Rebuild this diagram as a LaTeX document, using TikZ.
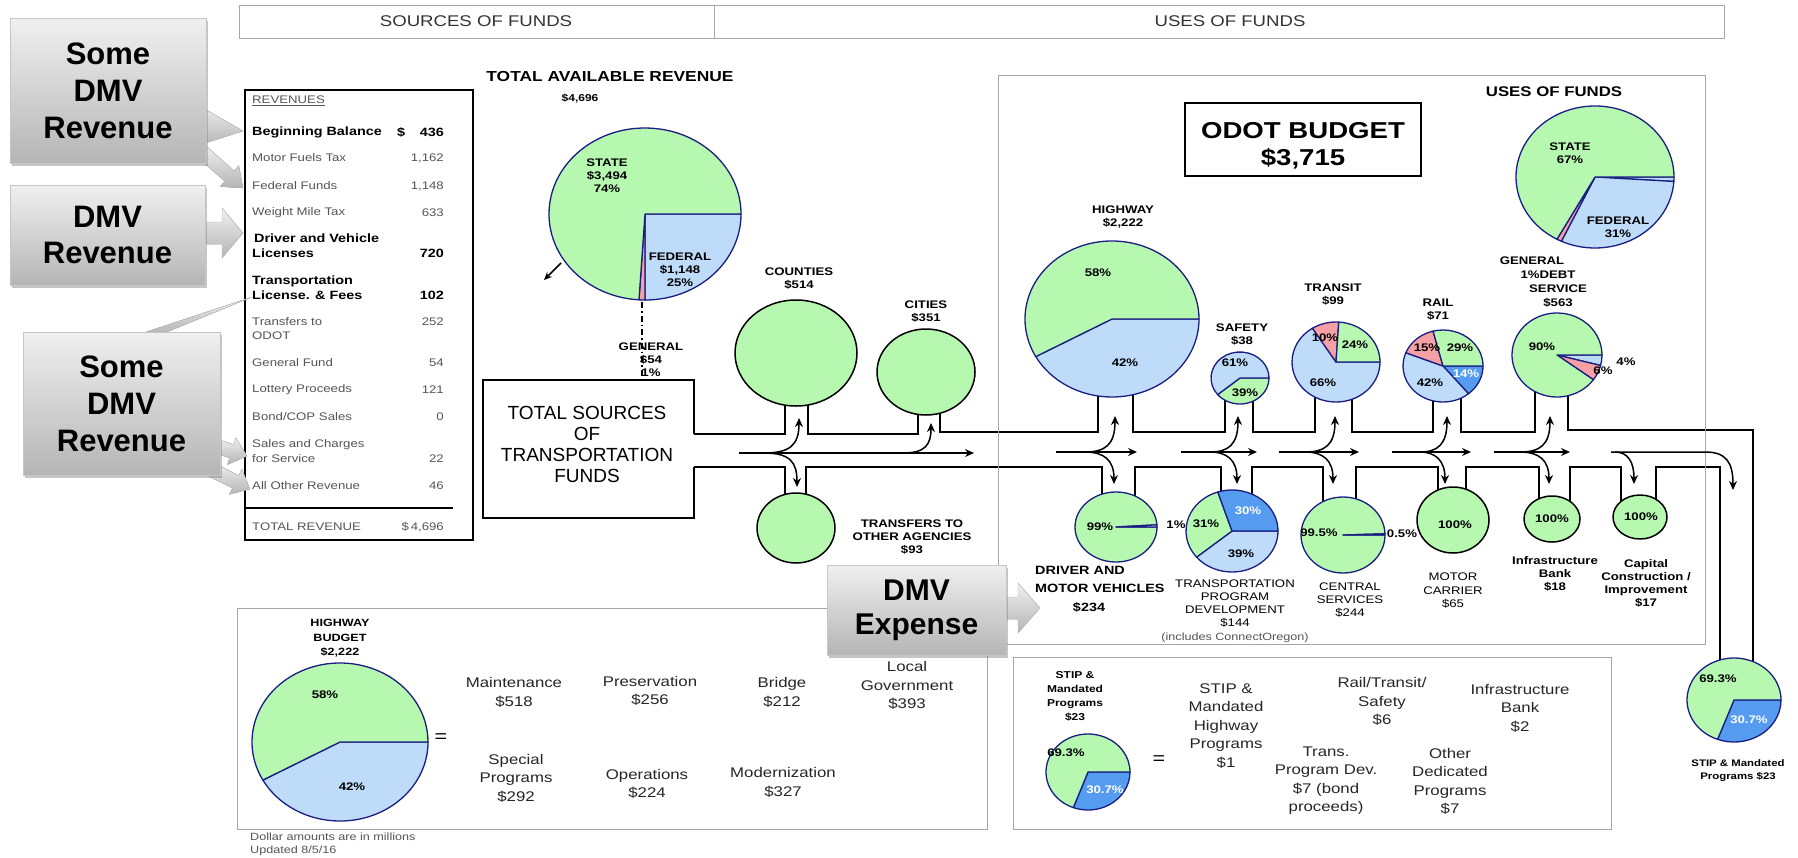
\documentclass[tikz,border=0pt]{standalone}
\usepackage{fontspec}
\setmainfont{Liberation Sans}[FakeStretch=1.2]
\newfontfamily\plainsans{Liberation Sans}
\usetikzlibrary{arrows.meta,calc,shadows}
\definecolor{pgreen}{RGB}{182,248,176}
\definecolor{pblue}{RGB}{190,220,250}
\definecolor{pdark}{RGB}{85,155,240}
\definecolor{ppink}{RGB}{245,160,165}
\definecolor{pline}{RGB}{25,30,130}
\definecolor{txtgray}{RGB}{85,85,85}

% pie slice: centre, x radius, y radius, start, end, fill
\newcommand{\pieslice}[6]{%
  \filldraw[fill=#6,draw=pline,line width=1.3pt,line join=round]
    (#1) -- ++(#4:#2 and #3) arc[start angle=#4,end angle=#5,x radius=#2,y radius=#3] -- cycle;}
% block arrow: start, tip, half shaft, half head, head length
\newcommand{\blockarrow}[5]{%
  \coordinate (ba-b) at ($(#2)!#5!(#1)$);
  \fill[callfill] ($(#1)!#3!90:(#2)$) -- ($(ba-b)!#3!-90:(#1)$) -- ($(ba-b)!#4!-90:(#1)$)
    -- (#2) -- ($(ba-b)!#4!90:(#1)$) -- ($(ba-b)!#3!90:(#1)$) -- ($(#1)!#3!-90:(#2)$) -- cycle;}

\begin{document}
\begin{tikzpicture}[x=1pt,y=-1pt,
  every node/.style={inner sep=0pt},
  hd/.style={font=\fontsize{15.5}{17}\selectfont, text=black!80},
  lb/.style={font=\fontsize{11}{13}\selectfont\bfseries, align=center},
  pc/.style={font=\fontsize{11}{12}\selectfont\bfseries},
  rv/.style={font=\fontsize{11}{12}\selectfont, text=txtgray, anchor=west},
  rvb/.style={font=\fontsize{12}{13}\selectfont\bfseries, anchor=west},
  num/.style={font=\fontsize{11}{12}\selectfont, text=txtgray, anchor=east},
  numb/.style={font=\fontsize{12}{13}\selectfont\bfseries, anchor=east},
  bx/.style={font=\fontsize{14}{18.5}\selectfont, align=center, text=black!85},
  chan/.style={line width=1.5pt},
  flow/.style={line width=1.5pt, -{Stealth[length=9pt,width=8pt]}},
  frame/.style={draw=gray!70, line width=0.9pt},
  circ/.style={fill=pgreen, draw=black, line width=1.5pt},
  callbox/.style={rectangle, draw=gray!45, top color=gray!12, bottom color=gray!58,
    drop shadow={opacity=0.45,shadow xshift=2pt,shadow yshift=-3pt},
    font=\plainsans\fontsize{31}{37}\selectfont\bfseries, align=center},
  callfill/.style={top color=gray!12, bottom color=gray!58, draw=gray!50, line width=0.4pt}
]
\useasboundingbox (0,0) rectangle (1798,857);
\fill[white] (0,0) rectangle (1798,857);

% header
\draw[frame] (239,5) rectangle (1724,38);
\draw[frame] (714,5) -- (714,38);
\node[hd] (srchead) at (476,21) {SOURCES OF FUNDS};
\node[hd] (usehead) at (1230,21) {USES OF FUNDS};

% revenue table
\draw[line width=1.4pt] (245,90) rectangle (473,540);
\draw[line width=1.2pt] (245,508) -- (453,508);
\node[rv] (revtitle) at (252,101) {\underline{REVENUES}};
\node[rvb] (begbal) at (252,132) {Beginning Balance};
\node[font=\fontsize{12}{13}\selectfont\bfseries] (begdol) at (401,132) {\$};
\node[numb] (begval) at (444,132) {436};
\foreach \i/\y/\txt/\val in {1/158/Motor Fuels Tax/{1,162}, 2/186/Federal Funds/{1,148},
  3/213/Weight Mile Tax/633, 4/322/Transfers to/252, 5/363/General Fund/54,
  6/390/Lottery Proceeds/121, 7/417/{Bond/COP Sales}/0, 8/486/All Other Revenue/46}
  {\node[rv] (rvl\i) at (252,\y) {\txt};
   \node[num] (rvv\i) at (444,\y) {\val};}
\node[rv] (rvodot) at (252,336) {ODOT};
\node[rv] (rvsales) at (252,445) {Sales and Charges};
\node[rv] (rvserv) at (252,459) {for Service};
\node[num] (rvservv) at (444,459) {22};
\node[rvb] (rvdvl) at (254,238) {Driver and Vehicle};
\node[rvb] (rvlic) at (252,253) {Licenses};
\node[numb] (rvlicv) at (444,253) {720};
\node[rvb] (rvtrans) at (252,281) {Transportation};
\node[rvb] (rvfees) at (252,295) {License. \& Fees};
\node[numb] (rvfeesv) at (444,295) {102};
\node[rv] (rvtotal) at (252,527) {TOTAL REVENUE};
\node[num] (rvtotalv) at (444,527) {\$\,4,696};

% total available revenue
\node[font=\fontsize{14.5}{16}\selectfont\bfseries] (tartitle) at (610,77) {TOTAL AVAILABLE REVENUE};
\node[font=\fontsize{10}{11}\selectfont\bfseries] (tarval) at (580,99) {\$4,696};
\coordinate (tar) at (645,214);
\pieslice{tar}{96}{86}{0}{90}{pblue}
\pieslice{tar}{96}{86}{90}{93.6}{ppink}
\pieslice{tar}{96}{86}{93.6}{360}{pgreen}
\node[lb] (tarstate) at (607,176) {STATE\\\$3,494\\74\%};
\node[lb] (tarfed) at (680,270) {FEDERAL\\\$1,148\\25\%};
\draw[line width=1.5pt, -{Stealth[length=8pt,width=7pt]}] (561,263) -- (544,280);
\draw[line width=1.5pt, dash pattern=on 6pt off 3pt on 1.5pt off 3pt] (642,302) -- (642,380);
\node[lb] (general) at (651,360) {GENERAL\\\$54\\1\%};

% total sources box and channel
\node[font=\plainsans\fontsize{19}{21}\selectfont, align=center] (tsources) at (587,444.5)
  {TOTAL SOURCES\\OF\\TRANSPORTATION\\FUNDS};
\draw[chan] (694,434) -- (694,380) -- (483,380) -- (483,518) -- (694,518) -- (694,467);
\draw[chan] (694,434) -- (785,434) -- (785,353) (808,353) -- (808,434) -- (918,434) -- (918,372)
  (940,372) -- (940,432) -- (1098,432) -- (1098,319) (1133,319) -- (1133,432) -- (1225,432) -- (1225,378)
  (1253,378) -- (1253,432) -- (1315,432) -- (1315,362) (1352,362) -- (1352,432) -- (1433,432) -- (1433,366)
  (1461,366) -- (1461,432) -- (1535,432) -- (1535,355) (1568,355) -- (1568,430) -- (1753,430) -- (1753,700);
\draw[chan] (694,467) -- (785,467) -- (785,528) (806,528) -- (806,467) -- (1102,467) -- (1102,527)
  (1135,527) -- (1135,467) -- (1221,467) -- (1221,531) (1252,531) -- (1252,467) -- (1323,467) -- (1323,535)
  (1356,535) -- (1356,467) -- (1438,467) -- (1438,520) (1466,520) -- (1466,467) -- (1539,467) -- (1539,519)
  (1570,519) -- (1570,467) -- (1621,467) -- (1621,517) (1656,517) -- (1656,467) -- (1720,467) -- (1720,700);

% local circles
\coordinate (counties) at (796,353);
\coordinate (cities) at (926,372);
\coordinate (transfers) at (796,528);
\draw[circ] (counties) ellipse [x radius=61, y radius=53];
\draw[circ] (cities) ellipse [x radius=49, y radius=43];
\draw[circ] (transfers) ellipse [x radius=39, y radius=35];
\node[lb] (countlbl) at (799,278.5) {COUNTIES\\\$514};
\node[lb] (citylbl) at (926,311.5) {CITIES\\\$351};
\node[lb] (translbl) at (912,537) {TRANSFERS TO\\OTHER AGENCIES\\\$93};

% uses of funds frame
\draw[frame] (998,75) rectangle (1705,644);
\draw[line width=1.5pt] (1185,103) rectangle (1421,176);
\node[font=\fontsize{23}{27}\selectfont\bfseries, align=center] (odot) at (1303,145.5) {ODOT BUDGET\\\$3,715};
\node[font=\fontsize{14}{16}\selectfont\bfseries] (usestitle) at (1554,92) {USES OF FUNDS};
\coordinate (uses) at (1595,177);
\pieslice{uses}{79}{71}{0}{3.6}{pblue}
\pieslice{uses}{79}{71}{3.6}{115.2}{pblue}
\pieslice{uses}{79}{71}{115.2}{118.8}{ppink}
\pieslice{uses}{79}{71}{118.8}{360}{pgreen}
\node[lb] (usesstate) at (1570,153.5) {STATE\\67\%};
\node[lb] (usesfed) at (1618,227.5) {FEDERAL\\31\%};

% upper pies
\coordinate (hwy) at (1112,319);
\pieslice{hwy}{87}{78}{0}{151.2}{pblue}
\pieslice{hwy}{87}{78}{151.2}{360}{pgreen}
\coordinate (safety) at (1240,378);
\pieslice{safety}{29}{26}{0}{140.4}{pgreen}
\pieslice{safety}{29}{26}{140.4}{360}{pblue}
\coordinate (transit) at (1336,362);
\pieslice{transit}{44}{40}{0}{237.6}{pblue}
\pieslice{transit}{44}{40}{237.6}{273.6}{ppink}
\pieslice{transit}{44}{40}{273.6}{360}{pgreen}
\coordinate (rail) at (1443,366);
\pieslice{rail}{40}{36}{0}{50.4}{pdark}
\pieslice{rail}{40}{36}{50.4}{201.6}{pblue}
\pieslice{rail}{40}{36}{201.6}{255.6}{ppink}
\pieslice{rail}{40}{36}{255.6}{360}{pgreen}
\coordinate (debt) at (1557,355);
\pieslice{debt}{45}{42}{0}{14.4}{pblue}
\pieslice{debt}{45}{42}{14.4}{36}{ppink}
\pieslice{debt}{45}{42}{36}{360}{pgreen}
\node[lb] (hwylbl) at (1123,217) {HIGHWAY\\\$2,222};
\node[lb] (safelbl) at (1242,335) {SAFETY\\\$38};
\node[lb] (transitlbl) at (1333,295) {TRANSIT\\\$99};
\node[lb] (raillbl) at (1438,309.5) {RAIL\\\$71};
\node[lb] (debtl1) at (1532,261) {GENERAL};
\node[lb] (debtl2) at (1548,275) {1\%DEBT};
\node[lb] (debtl3) at (1558,289) {SERVICE};
\node[lb] (debtl4) at (1558,303) {\$563};
\node[pc] (p1) at (1098,273) {58\%};
\node[pc] (p2) at (1125,363) {42\%};
\node[pc] (p3) at (1235,363) {61\%};
\node[pc] (p4) at (1245,393) {39\%};
\node[pc] (p5) at (1325,338) {10\%};
\node[pc] (p6) at (1355,345) {24\%};
\node[pc] (p7) at (1323,383) {66\%};
\node[pc] (p8) at (1427,348) {15\%};
\node[pc] (p9) at (1460,348) {29\%};
\node[pc, text=white] (p10) at (1466,374) {14\%};
\node[pc] (p11) at (1430,383) {42\%};
\node[pc] (p12) at (1542,347) {90\%};
\node[pc] (p13) at (1626,362) {4\%};
\node[pc] (p14) at (1603,371) {6\%};

% lower pies
\coordinate (dmv) at (1116,527);
\pieslice{dmv}{41}{35}{0}{356.4}{pgreen}
\pieslice{dmv}{41}{35}{-3.6}{0}{pblue}
\coordinate (tpd) at (1232,531);
\pieslice{tpd}{46}{41}{0}{140.4}{pblue}
\pieslice{tpd}{46}{41}{140.4}{252}{pgreen}
\pieslice{tpd}{46}{41}{252}{360}{pdark}
\coordinate (central) at (1343,535);
\pieslice{central}{42}{38}{0}{358.2}{pgreen}
\pieslice{central}{42}{38}{-1.8}{0}{pblue}
\coordinate (motor) at (1453,520);
\coordinate (infra) at (1552,519);
\coordinate (capital) at (1640,517);
\draw[circ] (motor) ellipse [x radius=36, y radius=33];
\draw[circ] (infra) ellipse [x radius=28, y radius=23];
\draw[circ] (capital) ellipse [x radius=27, y radius=22];
\node[pc] (p15) at (1100,527) {99\%};
\node[pc] (p16) at (1176,525) {1\%};
\node[pc, text=white] (p17) at (1248,511) {30\%};
\node[pc] (p18) at (1206,524) {31\%};
\node[pc] (p19) at (1241,554) {39\%};
\node[pc] (p20) at (1319,533) {99.5\%};
\node[pc] (p21) at (1402,534) {0.5\%};
\node[pc] (p22) at (1455,525) {100\%};
\node[pc] (p23) at (1552,519) {100\%};
\node[pc] (p24) at (1641,517) {100\%};
\node[font=\fontsize{12}{13}\selectfont\bfseries, anchor=west] (dmvl1) at (1035,570) {DRIVER AND};
\node[font=\fontsize{12}{13}\selectfont\bfseries, anchor=west] (dmvl2) at (1035,588) {MOTOR VEHICLES};
\node[font=\fontsize{12}{13}\selectfont\bfseries] (dmvl3) at (1089,607) {\$234};
\node[font=\fontsize{11}{13}\selectfont, align=center] (tpdlbl) at (1235,604)
  {TRANSPORTATION\\PROGRAM\\DEVELOPMENT\\\$144};
\node[font=\fontsize{10.5}{11}\selectfont, text=txtgray] (tpdnote) at (1235,638) {(includes ConnectOregon)};
\node[font=\fontsize{11}{13}\selectfont, align=center] (centlbl) at (1350,600) {CENTRAL\\SERVICES\\\$244};
\node[font=\fontsize{11}{13.5}\selectfont, align=center] (motorlbl) at (1453,591) {MOTOR\\CARRIER\\\$65};
\node[lb] (infralbl) at (1555,573.5) {Infrastructure\\Bank\\\$18};
\node[lb] (caplbl) at (1646,583) {Capital\\Construction /\\Improvement\\\$17};

% flows
\draw[flow] (739,453) -- (974,453);
\draw[flow] (764,453) .. controls (790,453) and (799,445) .. (799,418);
\draw[flow] (764,453) .. controls (790,453) and (797,462) .. (797,487);
\draw[flow] (903,453) .. controls (925,453) and (931,445) .. (931,423);
\foreach \xa/\xb/\xo/\xu/\xd in {1056/1137/1085/1115/1114, 1181/1257/1210/1238/1237,
  1279/1359/1305/1335/1333, 1392/1471/1420/1447/1445, 1494/1570/1520/1550/1549}
  {\draw[flow] (\xa,452) -- (\xb,452);
   \draw[flow] (\xo,452) .. controls (\xu-10,452) and (\xu,445) .. (\xu,416);
   \draw[flow] (\xo,452) .. controls (\xd-10,452) and (\xd,460) .. (\xd,484);}
\draw[flow] (1611,452) -- (1705,452) .. controls (1726,452) and (1733,462) .. (1733,490);
\draw[flow] (1615,452) .. controls (1628,452) and (1634,462) .. (1634,484);

% STIP pie on the right
\coordinate (stipr) at (1734,700);
\pieslice{stipr}{47}{42}{0}{110.5}{pdark}
\pieslice{stipr}{47}{42}{110.5}{360}{pgreen}
\node[pc] (p25) at (1718,679) {69.3\%};
\node[pc, text=white] (p26) at (1749,720) {30.7\%};
\node[font=\fontsize{9.5}{13.5}\selectfont\bfseries, align=center] (stiprlbl) at (1738,770.5) {STIP \& Mandated\\Programs \$23};

% highway budget box
\draw[frame] (237,608) rectangle (987,829);
\node[font=\fontsize{10.5}{14.5}\selectfont\bfseries, align=center] (hbtitle) at (340,638.5) {HIGHWAY\\BUDGET\\\$2,222};
\coordinate (hb) at (340,742);
\pieslice{hb}{88}{79}{0}{151.2}{pblue}
\pieslice{hb}{88}{79}{151.2}{360}{pgreen}
\node[pc] (p27) at (325,695) {58\%};
\node[pc] (p28) at (352,787) {42\%};
\node[font=\fontsize{18}{20}\selectfont] (hbeq) at (441,738) {=};
\node[bx] (maint) at (514,692.5) {Maintenance\\\$518};
\node[bx] (pres) at (650,691) {Preservation\\\$256};
\node[bx] (bridge) at (782,692.5) {Bridge\\\$212};
\node[bx] (localgov) at (907,685.5) {Local\\Government\\\$393};
\node[bx] (special) at (516,778) {Special\\Programs\\\$292};
\node[bx] (oper) at (647,784) {Operations\\\$224};
\node[bx] (modern) at (783,782.5) {Modernization\\\$327};
\node[font=\fontsize{10.5}{11}\selectfont, text=txtgray, anchor=west] (note1) at (250,837) {Dollar amounts are in millions};
\node[font=\fontsize{10.5}{11}\selectfont, text=txtgray, anchor=west] (note2) at (250,851) {Updated 8/5/16};

% STIP box
\draw[frame] (1013,657) rectangle (1611,829);
\node[font=\fontsize{10}{14}\selectfont\bfseries, align=center] (stiptitle) at (1075,696) {STIP \&\\Mandated\\Programs\\\$23};
\coordinate (stip) at (1088,772);
\pieslice{stip}{42}{38}{0}{110.5}{pdark}
\pieslice{stip}{42}{38}{110.5}{360}{pgreen}
\node[pc] (p29) at (1066,753) {69.3\%};
\node[pc, text=white] (p30) at (1105,790) {30.7\%};
\node[font=\fontsize{18}{20}\selectfont] (stipeq) at (1159,760) {=};
\node[bx] (stiphwy) at (1226,726) {STIP \&\\Mandated\\Highway\\Programs\\\$1};
\node[bx] (stiprail) at (1382,701.5) {Rail/Transit/\\Safety\\\$6};
\node[bx] (stipinfra) at (1520,708) {Infrastructure\\Bank\\\$2};
\node[bx] (stiptpd) at (1326,780.5) {Trans.\\Program Dev.\\\$7 (bond\\proceeds)};
\node[bx] (stipother) at (1450,781.5) {Other\\Dedicated\\Programs\\\$7};

% DMV callouts
\fill[callfill] (196,104) -- (243,131) -- (196,146) -- cycle;
\blockarrow{200,150}{243,188}{7pt}{14pt}{18pt}
\blockarrow{200,233}{243,233}{11pt}{25pt}{21pt}
\fill[callfill] (140,334) -- (252,297) -- (162,334) -- cycle;
\blockarrow{212,445}{247,456}{7pt}{14pt}{16pt}
\blockarrow{212,470}{250,489}{7pt}{14pt}{16pt}
\blockarrow{1000,608}{1040,608}{11pt}{25pt}{22pt}
\node[callbox, minimum width=196pt, minimum height=145pt] (dmvrev1) at (108,90.5) {Some\\DMV\\Revenue};
\node[callbox, minimum width=195pt, minimum height=100pt, font=\plainsans\fontsize{31}{36}\selectfont\bfseries] (dmvrev2) at (107.5,235) {DMV\\Revenue};
\node[callbox, minimum width=197pt, minimum height=143pt] (dmvrev3) at (121.5,403.5) {Some\\DMV\\Revenue};
\node[callbox, minimum width=179pt, minimum height=90pt, font=\plainsans\fontsize{30}{34}\selectfont\bfseries] (dmvexp) at (916.5,610) {DMV\\Expense};
\end{tikzpicture}
\end{document}
